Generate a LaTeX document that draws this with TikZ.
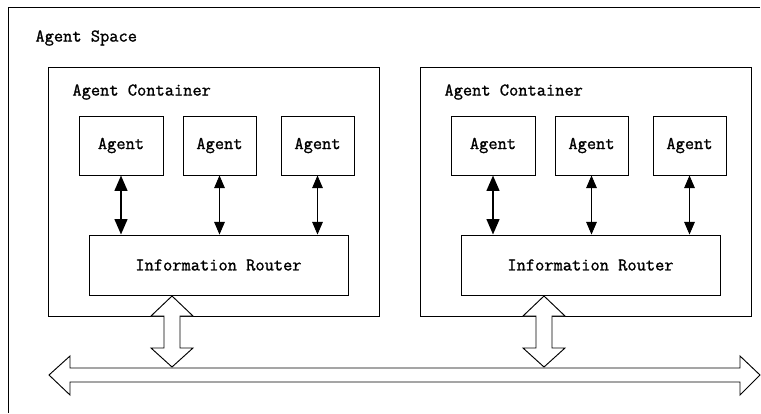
\documentclass[tikz,border=0pt]{standalone}
\usepackage{fontspec}
\usetikzlibrary{arrows.meta}
\newfontfamily\boxfont{Latin Modern Mono}[AutoFakeBold=1.2]

\begin{document}
\begin{tikzpicture}[x=0.03cm, y=-0.03cm, line width=0.8pt,
    block/.style={draw, inner sep=0pt, font={\boxfont\bfseries\fontsize{15.3}{18}\selectfont}},
    titletext/.style={anchor=west, inner sep=0pt, font={\boxfont\bfseries\fontsize{15.3}{18}\selectfont}},
    link/.style={{Triangle[length=0.38cm,width=0.32cm]}-{Triangle[length=0.38cm,width=0.32cm]}},
    boldlink/.style={line width=1.7pt, {Triangle[length=0.46cm,width=0.38cm]}-{Triangle[length=0.46cm,width=0.38cm]}},
    fat/.style={draw, fill=white, line join=miter}]
    \useasboundingbox (0,0) rectangle (761,413);

    % Agent space frame (runs off the page on the right and bottom)
    \draw (760,7) -- (8,7) -- (8,413);
    \node[titletext] (space) at (35,38) {Agent Space};

    % Two agent containers, the second shifted to the right
    \foreach \dx/\s in {0/l, 372/r} {
        \node[block, minimum width=9.93cm, minimum height=7.47cm] (\s-box) at ({213.5+\dx},191.5) {};
        \node[titletext] (\s-title) at ({72+\dx},92) {Agent Container};

        \node[block, minimum width=2.52cm, minimum height=1.77cm] (\s-agent1) at ({121+\dx},145.5) {Agent};
        \node[block, minimum width=2.19cm, minimum height=1.77cm] (\s-agent2) at ({219.5+\dx},145.5) {Agent};
        \node[block, minimum width=2.19cm, minimum height=1.77cm] (\s-agent3) at ({317.5+\dx},145.5) {Agent};

        \node[block, minimum width=7.77cm, minimum height=1.8cm] (\s-router) at ({218.5+\dx},265) {Information Router};

        % agent <-> router
        \draw[boldlink] (\s-agent1.south) -- (\s-agent1.south |- \s-router.north);
        \draw[link] (\s-agent2.south) -- (\s-agent2.south |- \s-router.north);
        \draw[link] (\s-agent3.south) -- (\s-agent3.south |- \s-router.north);

        % router <-> bus
        \coordinate (\s-port) at ({172+\dx},296);
        \draw[fat] (\s-port) -- ++(-21,20) -- ++(13,0) -- ++(0,32) -- ++(-13,0) -- ++(21,19)
            -- ++(21,-19) -- ++(-13,0) -- ++(0,-32) -- ++(13,0) -- cycle;
    }

    % Bus
    \draw[fat] (49,375) -- (70,356) -- (70,368) -- (740,368) -- (740,356) -- (760,375)
        -- (740,395) -- (740,382) -- (70,382) -- (70,395) -- cycle;
\end{tikzpicture}
\end{document}
